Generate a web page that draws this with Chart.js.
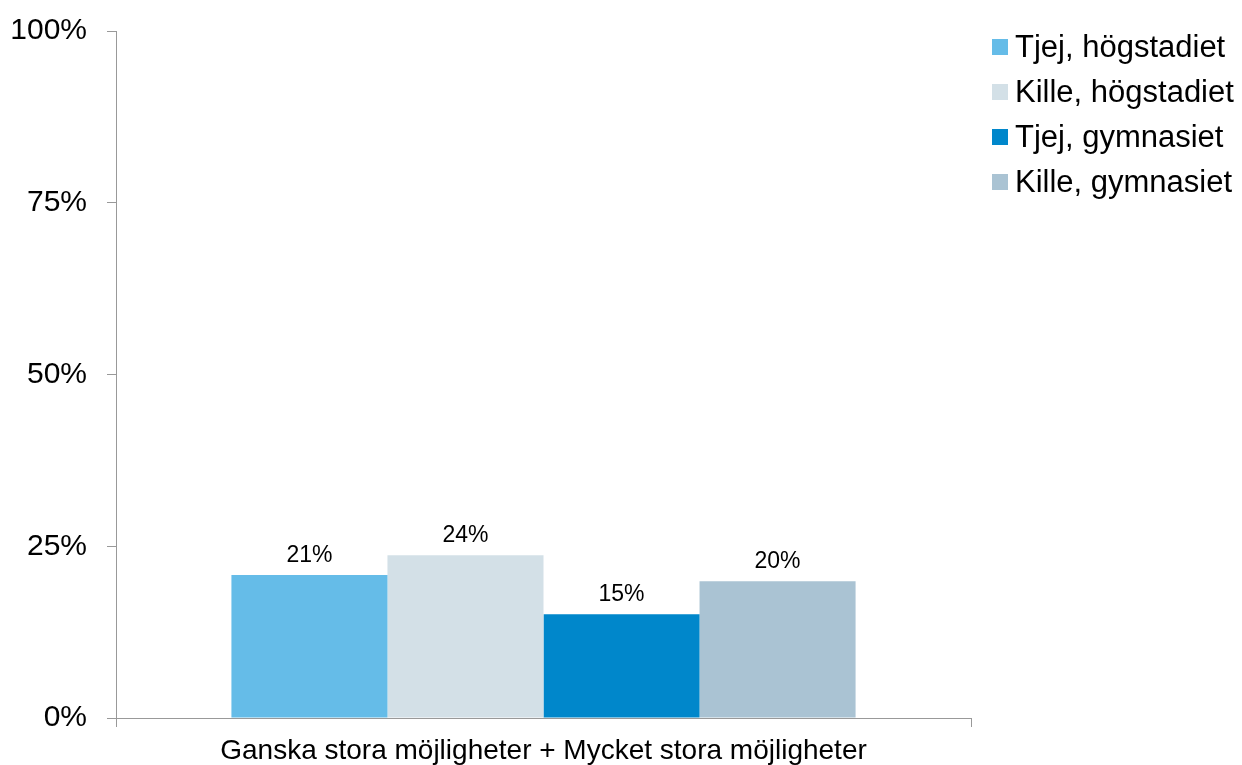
<!DOCTYPE html>
<html>
<head>
<meta charset="utf-8">
<script src="https://cdn.jsdelivr.net/npm/chart.js@4"></script>
<style>
  html, body { margin: 0; padding: 0; background: #fff; }
  #chart { display: block; }
</style>
</head>
<body>
<canvas id="chart" width="1242" height="765"></canvas>
<script>
const categories = ['Ganska stora möjligheter + Mycket stora möjligheter'];
const seriesNames = ['Tjej, högstadiet', 'Kille, högstadiet', 'Tjej, gymnasiet', 'Kille, gymnasiet'];
const seriesValues = [[20.8], [23.7], [15.1], [19.9]];
const seriesColors = ['#65BCE8', '#D3E0E7', '#0087CB', '#AAC3D3'];
const yTicks = [0, 25, 50, 75, 100];

const font = '"Liberation Sans", Arial, sans-serif';

const datasets = seriesNames.map((name, i) => ({
  label: name,
  data: seriesValues[i],
  backgroundColor: seriesColors[i],
  borderWidth: 0,
}));

const valueLabels = {
  id: 'valueLabels',
  afterDatasetsDraw(chart) {
    const ctx = chart.ctx;
    ctx.save();
    ctx.font = '23px ' + font;
    ctx.fillStyle = '#000';
    ctx.textAlign = 'center';
    ctx.textBaseline = 'bottom';
    chart.data.datasets.forEach((ds, i) => {
      chart.getDatasetMeta(i).data.forEach((bar, j) => {
        ctx.fillText(Math.round(ds.data[j]) + '%', bar.x, bar.y - 8);
      });
    });
    ctx.restore();
  },
};

const sideLegend = {
  id: 'sideLegend',
  afterDraw(chart) {
    const ctx = chart.ctx;
    ctx.save();
    ctx.font = '31px ' + font;
    ctx.textBaseline = 'middle';
    chart.data.datasets.forEach((ds, i) => {
      const y = 47 + i * 45;
      ctx.fillStyle = ds.backgroundColor;
      ctx.fillRect(992, y - 8, 16, 16);
      ctx.fillStyle = '#000';
      ctx.fillText(ds.label, 1015, y + 1);
    });
    ctx.restore();
  },
};

new Chart(document.getElementById('chart'), {
  type: 'bar',
  data: {
    labels: categories,
    datasets: datasets,
  },
  options: {
    responsive: false,
    animation: false,
    layout: {
      padding: { top: 31, right: 271, left: 0, bottom: 0 },
    },
    datasets: {
      bar: {
        categoryPercentage: 0.73,
        barPercentage: 1,
      },
    },
    scales: {
      x: {
        grid: {
          offset: true,
          drawOnChartArea: false,
          drawTicks: true,
          tickLength: 9,
          color: '#999',
        },
        border: { color: '#999', width: 1 },
        ticks: {
          color: '#000',
          padding: 7,
          font: { family: font, size: 28 },
        },
        afterFit(scale) {
          scale.height = 47;
          scale.paddingLeft = 0;
          scale.paddingRight = 0;
        },
      },
      y: {
        min: 0,
        max: 100,
        afterBuildTicks(scale) {
          scale.ticks = yTicks.map((v) => ({ value: v }));
        },
        grid: {
          drawOnChartArea: false,
          drawTicks: true,
          tickLength: 9,
          color: '#999',
        },
        border: { color: '#999', width: 1 },
        ticks: {
          color: '#000',
          padding: 20,
          font: { family: font, size: 30 },
          callback: (v) => v + '%',
        },
        afterFit(scale) {
          scale.width = 116;
          scale.paddingTop = 0;
          scale.paddingBottom = 0;
        },
      },
    },
    plugins: {
      legend: { display: false },
      tooltip: { enabled: false },
    },
  },
  plugins: [valueLabels, sideLegend],
});
</script>
</body>
</html>
